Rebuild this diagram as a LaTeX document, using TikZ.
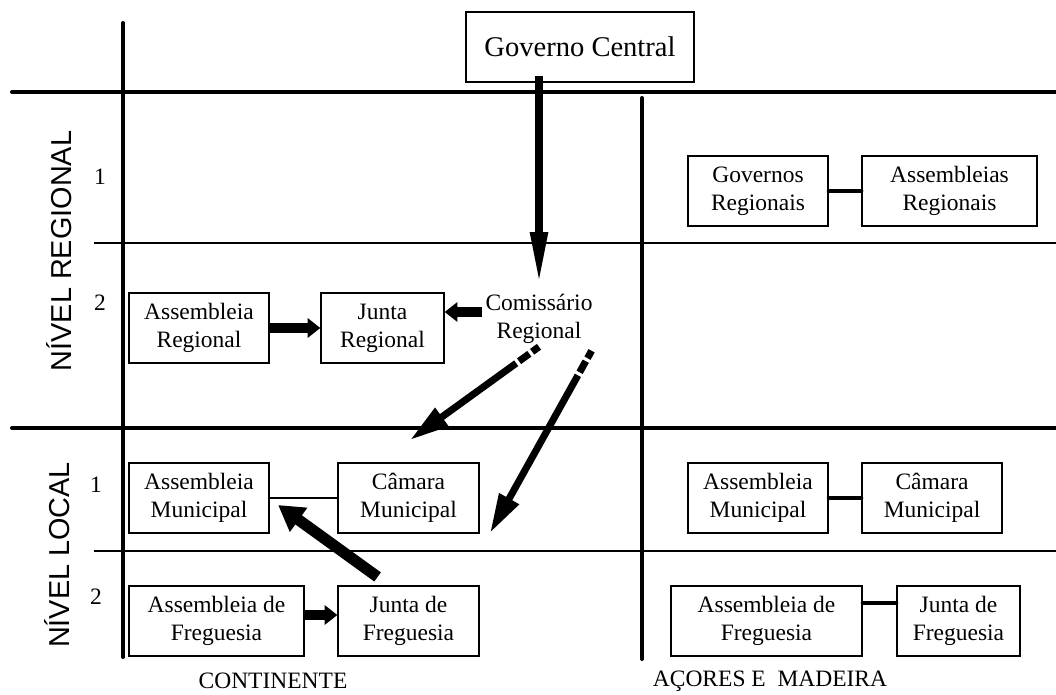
\documentclass[tikz,border=0pt]{standalone}
\usepackage{fontspec}
\setmainfont{Liberation Serif}
\newfontfamily\arialfont{Liberation Sans}
\usepackage{tikz}
\usetikzlibrary{positioning, arrows, arrows.meta}
\usetikzlibrary{calc}

\begin{document}
\begin{tikzpicture}[x=0.025cm, y=-0.025cm,
  box/.style={draw, line width=0.9pt, inner sep=0pt, minimum height=1.75cm, align=center, font=\fontsize{16.7}{19.9}\selectfont},
  txt/.style={inner sep=2pt, align=center, font=\fontsize{16.7}{19.9}\selectfont},
  nivel/.style={rotate=90, inner sep=0pt, font=\arialfont\fontsize{20.5}{24}\selectfont},
  thickline/.style={line width=2.85pt, line cap=round},
  thinline/.style={line width=1pt},
  fat/.style={line width=7pt, -{Triangle[length=9pt,width=13.5pt]}},
  upfat/.style={line width=8pt, -{Triangle[length=18pt,width=20pt]}},
  downarrow/.style={line width=5.7pt, -{Triangle[length=38pt,width=11.4pt]}},
  diag/.style={line width=5pt, dash pattern=on 6pt off 2.5pt on 9pt off 2.5pt on 400pt off 1pt, -{Triangle[length=28pt,width=15pt]}},
  link/.style={line width=2.8pt, line cap=round}]

\useasboundingbox (0,0) rectangle (1056,695);

\coordinate (H1a) at (12,92);
\coordinate (H1b) at (1056,92);
\coordinate (H2a) at (12,428);
\coordinate (H2b) at (1056,428);
\coordinate (T1a) at (94,243);
\coordinate (T1b) at (1056,243);
\coordinate (T2a) at (94,551);
\coordinate (T2b) at (1056,551);
\coordinate (V1a) at (123,23);
\coordinate (V1b) at (123,657);
\coordinate (V2a) at (642,98);
\coordinate (V2b) at (642,659);
\draw[thickline] (H1a)--(H1b) (H2a)--(H2b) (V1a)--(V1b) (V2a)--(V2b);
\draw[thinline] (T1a)--(T1b) (T2a)--(T2b);

\node[nivel] (nreg) at (59,251) {NÍVEL REGIONAL};
\node[nivel] (nloc) at (57,555) {NÍVEL LOCAL};
\node[txt] (r1) at (100,177) {1};
\node[txt] (r2) at (100,303) {2};
\node[txt] (l1) at (96,485) {1};
\node[txt] (l2) at (96,597) {2};

\node[box, minimum width=5.7cm, font=\fontsize{20.3}{24}\selectfont] (gc) at (580,47) {Governo Central};

\node[box, minimum width=3.5cm] (arC) at (199,328) {Assembleia\\Regional};
\node[box, minimum width=3.075cm] (jrC) at (382.5,328) {Junta\\Regional};
\node[txt] (com) at (539,319) {Comissário\\Regional};
\node[box, minimum width=3.5cm] (amC) at (199,498) {Assembleia\\Municipal};
\node[box, minimum width=3.525cm] (cmC) at (408.5,498) {Câmara\\Municipal};
\node[box, minimum width=4.375cm] (afC) at (216.5,621) {Assembleia de\\Freguesia};
\node[box, minimum width=3.525cm] (jfC) at (408.5,621) {Junta de\\Freguesia};

\node[box, minimum width=3.5cm] (grA) at (758,191) {Governos\\Regionais};
\node[box, minimum width=4.375cm] (arA) at (949.5,191) {Assembleias\\Regionais};
\node[box, minimum width=3.5cm] (amA) at (758,498) {Assembleia\\Municipal};
\node[box, minimum width=3.5cm] (cmA) at (932,498) {Câmara\\Municipal};
\node[box, minimum width=4.775cm] (afA) at (766.5,621) {Assembleia de\\Freguesia};
\node[box, minimum width=3.075cm] (jfA) at (958.5,621) {Junta de\\Freguesia};

\node[txt] (cont) at (273,681) {CONTINENTE};
\node[txt] (acm) at (770,681) {AÇORES E\ \ MADEIRA};

\coordinate (tipA) at (410,440);
\coordinate (tipB) at (490,533);

\draw[downarrow] ($(com.north |- gc.south)+(0,-7)$) -- ([yshift=4pt]com.north);
\draw[fat] (arC) -- (jrC);
\draw[fat] ($(com.west)+(0,-7)$) -- ($(com.west -| jrC.east)+(0,-7)$);
\draw[diag] (com.south) -- (tipA);
\draw[diag] ($(com.south east)+(-4,4)$) -- (tipB);
\draw[line width=1.4pt] (amC) -- (cmC);
\draw[upfat] ([xshift=-22pt,yshift=6pt]jfC.north) -- ([xshift=6pt,yshift=-5pt]amC.east);
\draw[fat] ($(afC.east)+(0,-6)$) -- ($(jfC.west)+(0,-6)$);

\draw[link] (grA) -- (arA);
\draw[link] (amA) -- (cmA);
\draw[link] ($(afA.east)+(0,-18)$) -- ($(jfA.west)+(0,-18)$);
\end{tikzpicture}
\end{document}
